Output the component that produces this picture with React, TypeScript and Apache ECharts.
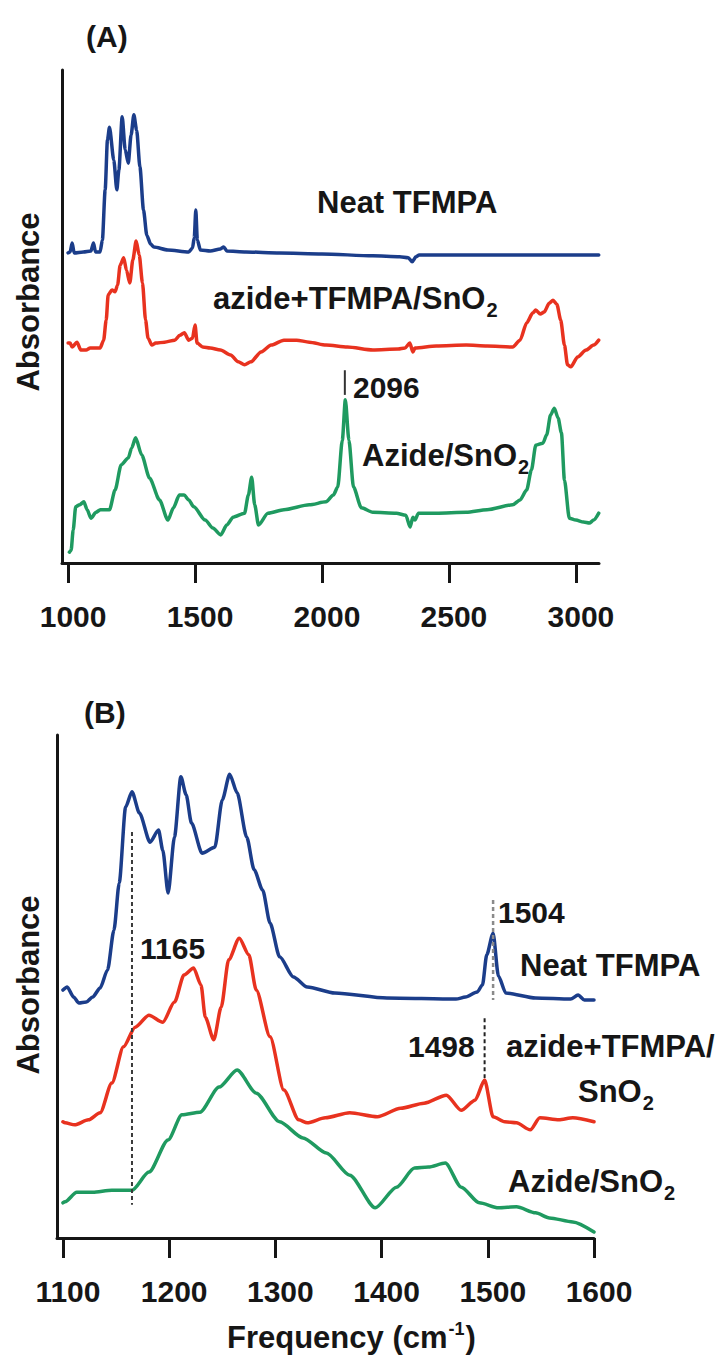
import React, { useEffect, useRef } from 'react';
import * as echarts from 'echarts';

// ---------- Panel A data (frequency cm-1, absorbance a.u.) ----------
const A_TICKS = [1000, 1500, 2000, 2500, 3000];

const A_NEAT: number[][] = [
  [1000, 62.9], [1008, 63.1], [1016, 64.9], [1024, 62.9], [1060, 63.1], [1090, 63.3], [1100, 64.9],
  [1108, 63.1], [1126, 63.1], [1135, 65.5], [1146, 75.7], [1155, 85.8], [1163, 88.4], [1180, 81.7],
  [1192, 75.7], [1200, 79.7], [1213, 90.5], [1225, 83.8], [1237, 81.1], [1248, 86.8], [1259, 90.9],
  [1270, 87.8], [1283, 80.3], [1297, 71.6], [1310, 66.5], [1325, 64.7], [1338, 64.1], [1393, 63.5],
  [1475, 63.1], [1490, 63.9], [1497, 66.0], [1503, 71.6], [1509, 65.5], [1521, 63.5], [1560, 63.3],
  [1600, 63.7], [1613, 64.1], [1625, 63.3], [1700, 63.1], [1833, 62.9], [2000, 62.7], [2200, 62.3],
  [2306, 62.1], [2340, 61.9], [2355, 61.1], [2370, 62.1], [2383, 62.5], [2500, 62.5], [2700, 62.5],
  [2900, 62.5], [3090, 62.5],
];

const A_MIXED: number[][] = [
  [1000, 44.6], [1008, 44.6], [1016, 43.8], [1035, 44.8], [1050, 43.2], [1071, 43.2], [1087, 43.6],
  [1126, 43.6], [1140, 45.2], [1150, 49.3], [1158, 54.4], [1173, 55.4], [1185, 55.0], [1195, 56.4],
  [1205, 60.4], [1219, 61.9], [1230, 59.4], [1243, 56.8], [1255, 61.5], [1268, 65.3], [1280, 62.5],
  [1293, 56.8], [1305, 49.3], [1315, 45.6], [1330, 44.2], [1345, 44.6], [1380, 44.8], [1420, 45.2],
  [1440, 46.2], [1458, 46.7], [1475, 45.2], [1490, 45.6], [1500, 48.3], [1508, 44.6], [1530, 43.8],
  [1560, 43.6], [1600, 43.2], [1640, 42.2], [1670, 40.8], [1695, 40.2], [1720, 40.8], [1760, 42.8],
  [1800, 44.2], [1850, 45.2], [1900, 45.2], [1950, 44.8], [2016, 44.2], [2100, 43.8], [2200, 43.2],
  [2300, 43.4], [2327, 43.6], [2346, 44.6], [2358, 42.8], [2366, 43.6], [2450, 44.0], [2568, 44.2],
  [2650, 44.0], [2751, 43.8], [2780, 45.2], [2806, 48.7], [2830, 50.7], [2842, 51.3], [2860, 50.5],
  [2875, 50.9], [2895, 52.7], [2910, 53.3], [2925, 52.5], [2940, 49.3], [2955, 44.2], [2967, 40.2],
  [2980, 39.8], [3007, 41.8], [3040, 43.2], [3070, 44.2], [3090, 45.2],
];

const A_AZIDE: number[][] = [
  [1005, 2.2], [1012, 2.6], [1020, 6.7], [1030, 11.4], [1045, 11.8], [1062, 12.4], [1075, 10.8],
  [1090, 9.1], [1110, 10.3], [1127, 10.8], [1163, 10.8], [1185, 14.8], [1209, 19.9], [1237, 21.3],
  [1250, 23.3], [1266, 25.4], [1290, 21.9], [1321, 17.2], [1360, 12.8], [1393, 8.7], [1415, 11.2],
  [1438, 13.8], [1457, 13.8], [1475, 12.8], [1495, 11.4], [1540, 8.7], [1570, 7.1], [1601, 5.7],
  [1625, 7.7], [1650, 9.3], [1695, 10.1], [1710, 13.8], [1723, 17.4], [1735, 11.8], [1750, 7.7],
  [1787, 10.1], [1850, 10.8], [1950, 11.8], [2016, 12.4], [2045, 13.8], [2062, 15.4], [2080, 24.9],
  [2092, 33.1], [2106, 24.9], [2124, 15.4], [2155, 11.2], [2200, 10.3], [2293, 10.1], [2330, 9.7],
  [2347, 7.3], [2358, 9.3], [2366, 8.7], [2380, 10.1], [2450, 10.1], [2568, 10.3], [2650, 10.8],
  [2751, 11.8], [2780, 12.8], [2806, 14.8], [2825, 18.9], [2842, 23.9], [2870, 24.3], [2885, 26.0],
  [2900, 30.0], [2915, 31.4], [2930, 29.4], [2943, 26.4], [2955, 16.8], [2974, 9.1], [3000, 8.7],
  [3030, 8.3], [3053, 8.1], [3070, 8.7], [3090, 10.1],
];

const A_MARK_2096: number[][] = [[2090, 39.1], [2090, 34.1]];

// ---------- Panel B data ----------
const B_TICKS = [1100, 1200, 1300, 1400, 1500, 1600];

const B_NEAT: number[][] = [
  [1100, 49.3], [1104, 49.9], [1110, 47.9], [1115, 46.7], [1122, 46.9], [1128, 47.9], [1135, 49.7],
  [1142, 53.3], [1148, 61.2], [1153, 70.6], [1159, 85.7], [1165, 88.7], [1172, 84.5], [1182, 78.7],
  [1190, 81.1], [1194, 77.1], [1199, 68.6], [1205, 79.7], [1211, 91.7], [1216, 88.1], [1221, 82.5],
  [1231, 76.5], [1243, 77.7], [1250, 87.1], [1257, 92.2], [1264, 88.5], [1273, 79.7], [1280, 73.2],
  [1288, 69.2], [1295, 62.6], [1304, 55.9], [1317, 51.9], [1330, 49.9], [1356, 48.7], [1405, 47.7],
  [1470, 47.5], [1479, 47.9], [1490, 48.9], [1495, 50.3], [1499, 56.3], [1505, 60.6], [1510, 52.1],
  [1517, 48.7], [1545, 47.7], [1578, 47.5], [1585, 48.3], [1591, 47.3], [1600, 47.3],
];

const B_MIXED: number[][] = [
  [1100, 23.1], [1102, 22.9], [1111, 22.5], [1124, 23.5], [1135, 24.9], [1146, 30.8], [1157, 38.0],
  [1168, 41.9], [1181, 44.3], [1194, 42.9], [1205, 46.9], [1214, 52.3], [1223, 53.7], [1230, 50.3],
  [1234, 43.9], [1242, 39.4], [1249, 45.9], [1256, 55.3], [1266, 59.6], [1275, 56.3], [1282, 49.3],
  [1295, 40.0], [1308, 29.4], [1322, 23.5], [1330, 22.9], [1347, 23.9], [1370, 24.9], [1396, 24.1],
  [1418, 25.8], [1440, 26.8], [1461, 28.4], [1475, 25.4], [1488, 27.4], [1497, 31.4], [1505, 24.1],
  [1516, 23.1], [1527, 22.9], [1540, 21.5], [1549, 23.9], [1567, 23.5], [1580, 23.9], [1600, 23.1],
];

const B_AZIDE: number[][] = [
  [1100, 7.0], [1102, 7.2], [1113, 9.1], [1128, 9.1], [1146, 9.5], [1165, 9.5], [1181, 13.1],
  [1199, 19.5], [1212, 24.5], [1229, 25.0], [1247, 30.0], [1264, 33.4], [1282, 28.8], [1304, 23.1],
  [1326, 19.9], [1348, 16.9], [1370, 12.5], [1394, 6.0], [1414, 10.1], [1431, 13.9], [1444, 14.1],
  [1460, 14.9], [1475, 10.1], [1492, 7.0], [1510, 6.0], [1527, 6.2], [1545, 5.0], [1558, 4.0],
  [1580, 3.2], [1600, 1.2],
];

const B_MARK_1165: number[][] = [[1165, 80.7], [1165, 6.6]];
const B_MARK_1504: number[][] = [[1505, 67.2], [1505, 47.3]];
const B_MARK_1498: number[][] = [[1497, 43.7], [1497, 31.8]];

// ---------- styling ----------
const FONT = '"Liberation Sans", Arial, Helvetica, sans-serif';
const BLUE = '#1b3d8a';
const RED = '#e8321f';
const GREEN = '#1f9a60';
const INK = '#161616';
const LABEL_SIZE = 31;
const SUB_SIZE = 20;

function measure(text: string, size: number): number {
  const ctx = document.createElement('canvas').getContext('2d');
  if (!ctx) return text.length * size * 0.58;
  ctx.font = `bold ${size}px ${FONT}`;
  return ctx.measureText(text).width;
}

function txt(x: number, y: number, text: string, size = LABEL_SIZE, extra: any = {}) {
  return {
    type: 'text',
    x,
    y,
    silent: true,
    ...extra,
    style: {
      text,
      fill: INK,
      fontSize: size,
      fontWeight: 'bold',
      fontFamily: FONT,
      align: extra.align || 'left',
      verticalAlign: 'middle',
    },
  };
}

// main text followed by a subscript
function withSub(x: number, y: number, main: string, sub: string) {
  const w = measure(main, LABEL_SIZE);
  return [txt(x, y, main), txt(x + w + 1, y + 12, sub, SUB_SIZE)];
}

function App() {
  const ref = useRef<HTMLDivElement>(null);

  useEffect(() => {
    if (!ref.current) return;
    const chart = echarts.init(ref.current, null, { renderer: 'svg' });

    const axisLineStyle = { color: INK, width: 3 };
    const xAxisCommon = (min: number, max: number, ticks: number[], grid: number) => ({
      type: 'value',
      gridIndex: grid,
      min,
      max,
      axisLine: { show: true, onZero: false, lineStyle: axisLineStyle },
      axisTick: { show: true, customValues: ticks, length: 20, inside: false, lineStyle: { color: INK, width: 3 } },
      axisLabel: {
        customValues: ticks,
        formatter: (v: number) => String(v),
        margin: 38,
        fontSize: 30,
        fontWeight: 'bold',
        fontFamily: FONT,
        color: INK,
        padding: [0, 0, 0, 10],
      },
      splitLine: { show: false },
    });
    const yAxisCommon = (grid: number) => ({
      type: 'value',
      gridIndex: grid,
      min: 0,
      max: 100,
      axisLine: { show: true, onZero: false, lineStyle: axisLineStyle },
      axisTick: { show: false },
      axisLabel: { show: false },
      splitLine: { show: false },
    });

    const spectrum = (data: number[][], color: string, grid: number) => ({
      type: 'line',
      xAxisIndex: grid,
      yAxisIndex: grid,
      data,
      symbol: 'none',
      showSymbol: false,
      smooth: 0.25,
      smoothMonotone: 'x',
      silent: true,
      lineStyle: { color, width: 3.5, cap: 'round', join: 'round' },
      z: 3,
    });
    const marker = (data: number[][], color: string, grid: number, type: any, width = 2) => ({
      type: 'line',
      xAxisIndex: grid,
      yAxisIndex: grid,
      data,
      symbol: 'none',
      showSymbol: false,
      silent: true,
      lineStyle: { color, width, type },
      z: 4,
    });

    const graphics: any[] = [
      // Panel A
      txt(86, 36, '(A)', 30),
      txt(28, 302, 'Absorbance', LABEL_SIZE, { rotation: Math.PI / 2, align: 'center' }),
      txt(317, 202, 'Neat TFMPA'),
      ...withSub(213, 298, 'azide+TFMPA/SnO', '2'),
      txt(353, 387, '2096', 30),
      ...withSub(362, 455, 'Azide/SnO', '2'),
      // Panel B
      txt(84, 712, '(B)', 30),
      txt(28, 985, 'Absorbance', LABEL_SIZE, { rotation: Math.PI / 2, align: 'center' }),
      txt(140, 948, '1165', 30),
      txt(498, 912, '1504', 30),
      txt(520, 965, 'Neat TFMPA'),
      txt(408, 1046, '1498', 30),
      txt(506, 1046, 'azide+TFMPA/'),
      ...withSub(578, 1091, 'SnO', '2'),
      ...withSub(508, 1181, 'Azide/SnO', '2'),
    ];
    // axis title with superscript
    const f1 = 'Frequency (cm';
    const w1 = measure(f1, LABEL_SIZE);
    const w2 = measure('-1', 18);
    graphics.push(txt(227, 1337, f1));
    graphics.push(txt(227 + w1 + 1, 1329, '-1', 18));
    graphics.push(txt(227 + w1 + w2 + 2, 1337, ')'));

    chart.setOption({
      animation: false,
      backgroundColor: '#ffffff',
      grid: [
        { left: 62, top: 70, width: 537, height: 493 },
        { left: 57, top: 735, width: 537, height: 503 },
      ],
      xAxis: [xAxisCommon(976, 3091, A_TICKS, 0), xAxisCommon(1094.4, 1600, B_TICKS, 1)],
      yAxis: [yAxisCommon(0), yAxisCommon(1)],
      series: [
        spectrum(A_NEAT, BLUE, 0),
        spectrum(A_MIXED, RED, 0),
        spectrum(A_AZIDE, GREEN, 0),
        marker(A_MARK_2096, '#333333', 0, 'solid', 2),
        spectrum(B_NEAT, BLUE, 1),
        spectrum(B_MIXED, RED, 1),
        spectrum(B_AZIDE, GREEN, 1),
        marker(B_MARK_1165, '#3a3a3a', 1, [4, 3]),
        marker(B_MARK_1504, '#8a8a8a', 1, [4, 3], 2.5),
        marker(B_MARK_1498, '#222222', 1, [4, 3]),
      ],
      graphic: graphics,
    });

    return () => chart.dispose();
  }, []);

  return (
    <div
      ref={ref}
      style={{ position: 'absolute', left: 0, top: 0, width: 727, height: 1355, background: '#fff' }}
    />
  );
}

export default App;
